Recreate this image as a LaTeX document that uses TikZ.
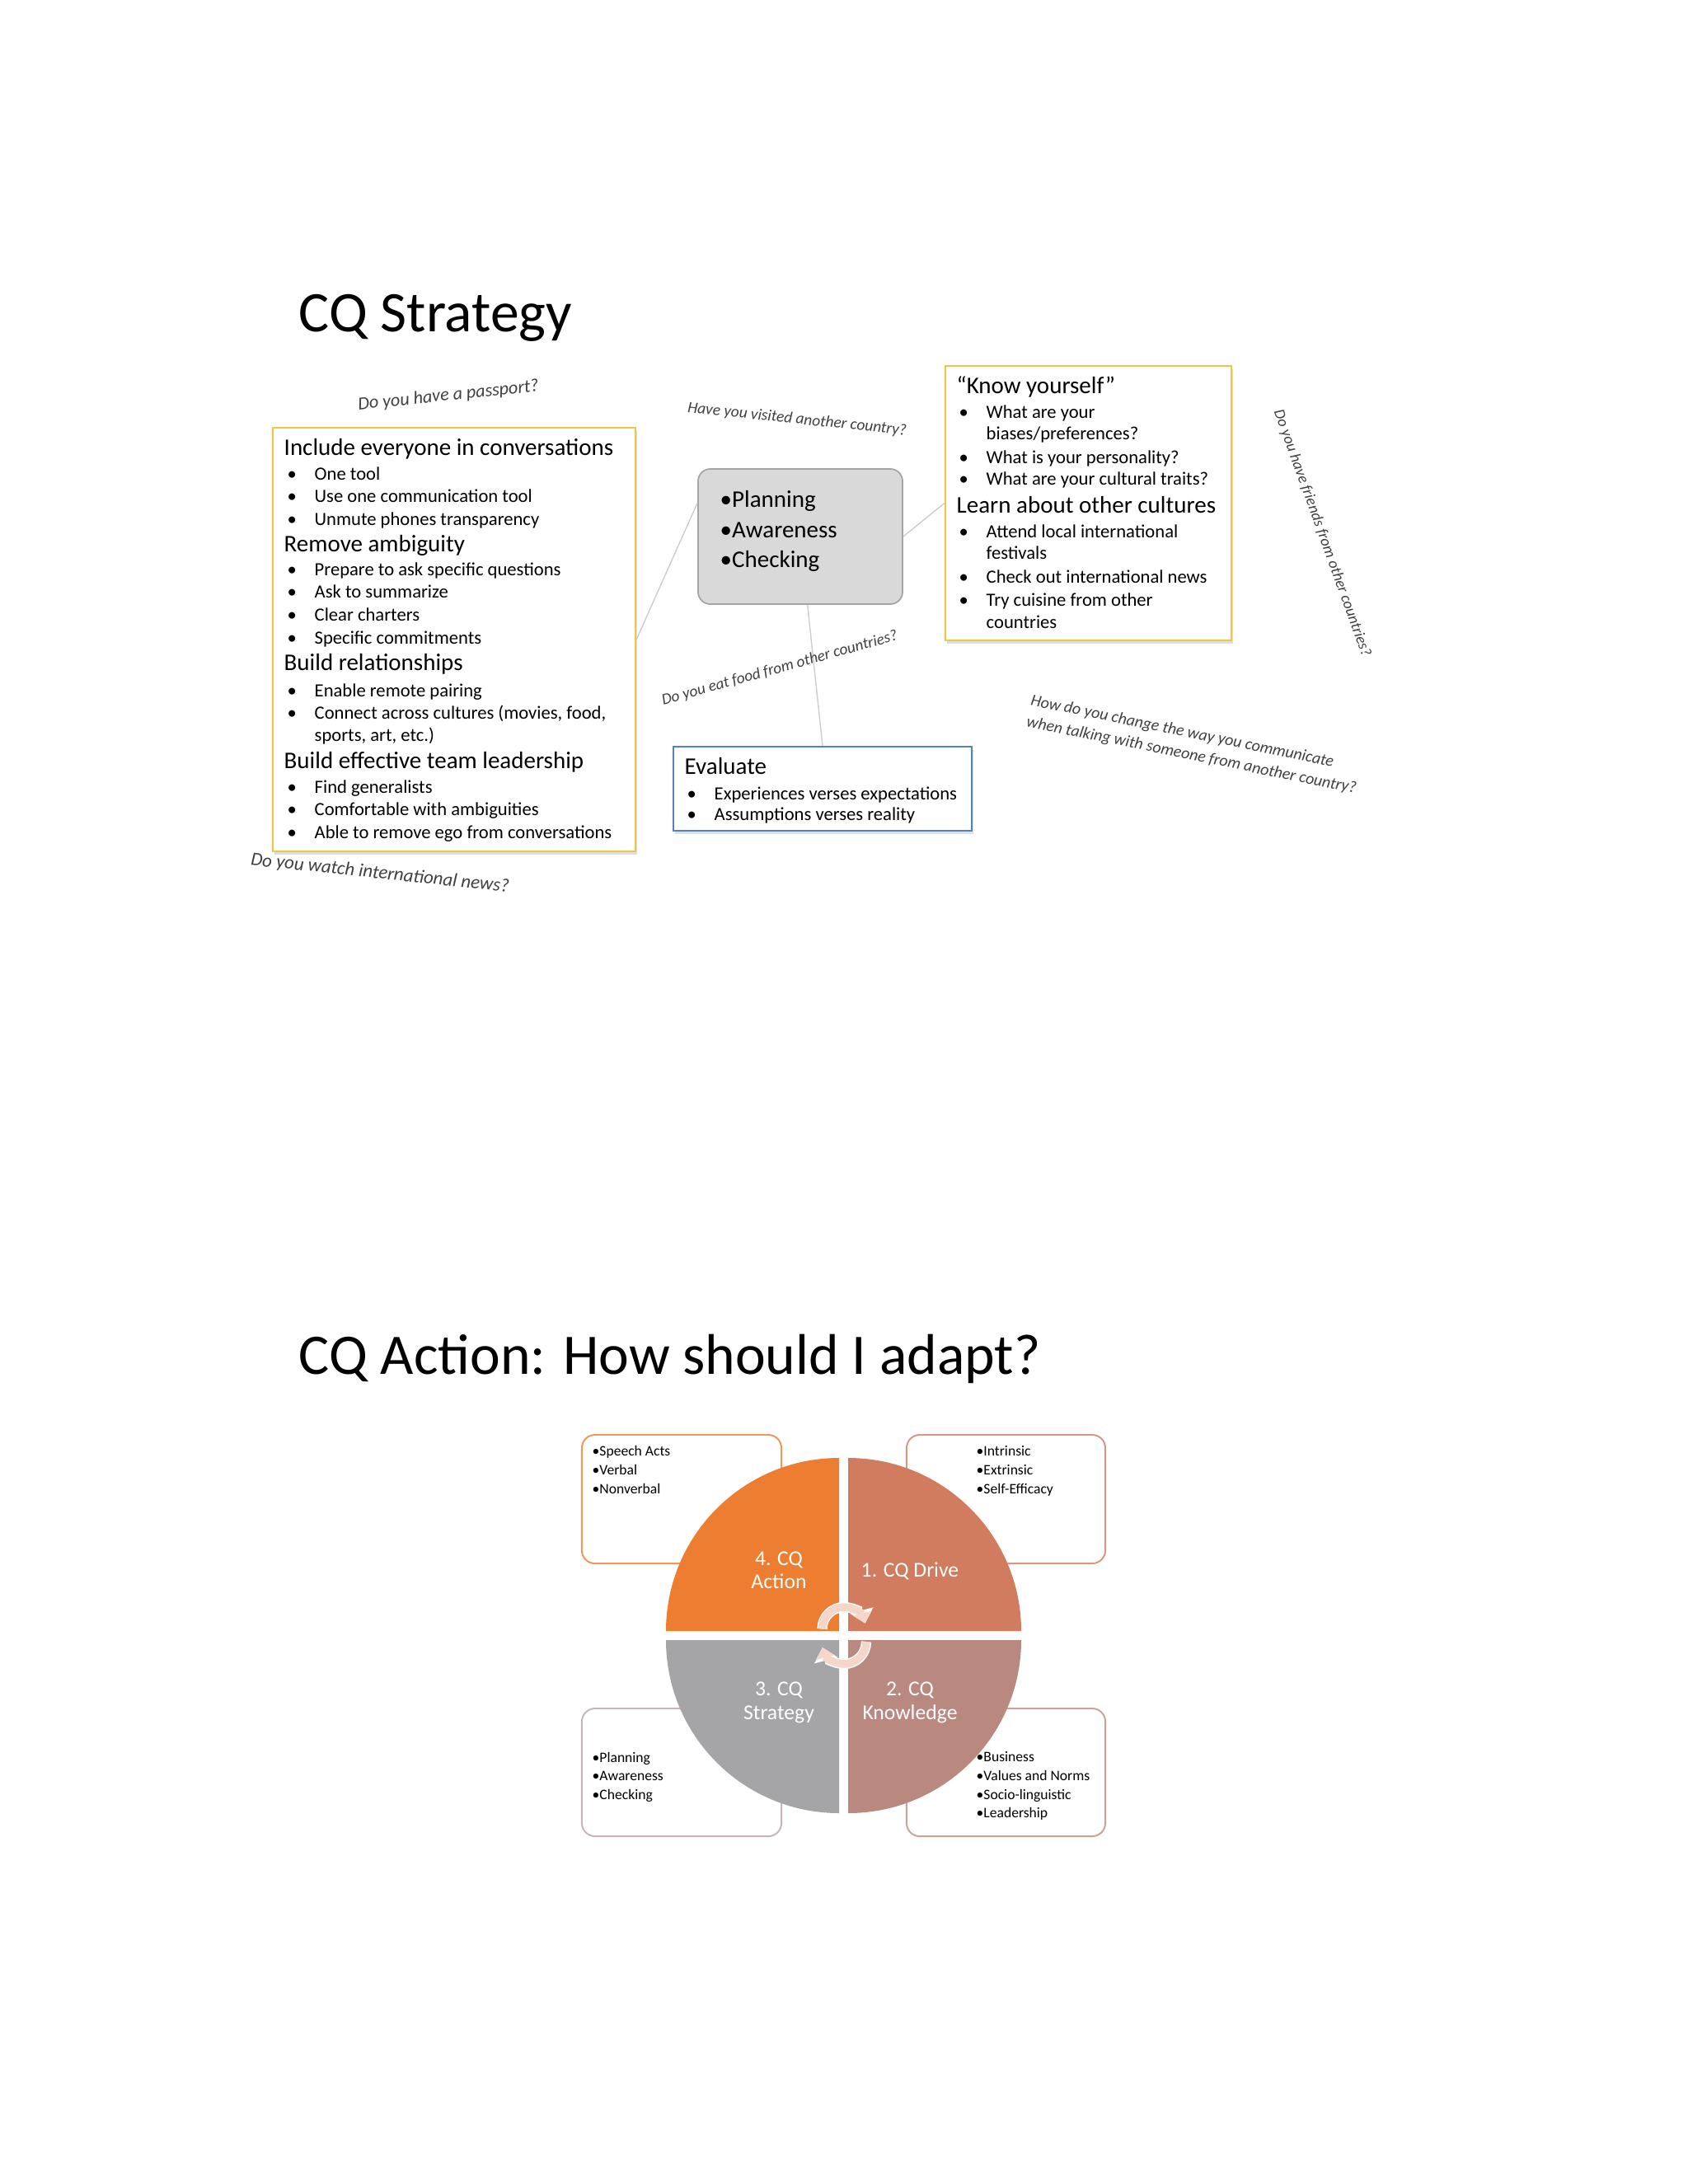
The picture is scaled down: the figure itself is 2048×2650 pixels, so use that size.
\documentclass[tikz,border=0pt]{standalone}
\usepackage{fontspec}
\setmainfont{Carlito}
\usetikzlibrary{shadows,arrows.meta}

\definecolor{boxgold}{RGB}{240,198,72}
\definecolor{boxblue}{RGB}{84,130,190}
\definecolor{linkgray}{RGB}{205,205,205}
\definecolor{askgray}{RGB}{64,64,64}
\definecolor{pacfill}{RGB}{217,217,217}
\definecolor{pacdraw}{RGB}{165,165,165}
\definecolor{actorange}{RGB}{237,125,49}
\definecolor{drvred}{RGB}{209,124,95}
\definecolor{knwrose}{RGB}{185,137,128}
\definecolor{stggray}{RGB}{165,164,166}
\definecolor{cycpink}{RGB}{247,214,202}
\definecolor{actline}{RGB}{242,150,90}
\definecolor{drvline}{RGB}{218,150,128}
\definecolor{knwline}{RGB}{205,160,152}
\definecolor{stgline}{RGB}{200,180,180}

\newcommand{\bul}{\makebox[0.33cm][l]{•}}

\tikzset{
	ttl/.style={anchor=base west, inner sep=0, font=\fontsize{19.8}{24}\selectfont},
	hd/.style={anchor=base west, inner sep=0, font=\fontsize{8.25}{10}\selectfont},
	itm/.style={anchor=base west, inner sep=0, font=\fontsize{6.43}{7.7}\selectfont},
	sitm/.style={anchor=base west, inner sep=0, font=\fontsize{5.0}{6}\selectfont},
	qlab/.style={anchor=base, inner sep=0, text=white, font=\fontsize{7.3}{8.8}\selectfont},
	ask/.style={inner sep=0, text=askgray, font=\fontsize{#1pt}{1.32\dimexpr #1pt\relax}\selectfont\itshape},
	tipbox/.style={draw=boxgold, line width=0.6pt, fill=white, inner sep=0,
		drop shadow={shadow xshift=0.6pt, shadow yshift=-1.2pt, opacity=0.25}},
	evalbox/.style={draw=boxblue, line width=0.6pt, fill=white, inner sep=0,
		drop shadow={shadow xshift=0.6pt, shadow yshift=-1.2pt, opacity=0.25}},
	pacbox/.style={draw=pacdraw, line width=0.5pt, fill=pacfill, rounded corners=0.15cm, inner sep=0},
	roundbox/.style={draw=#1, line width=0.55pt, fill=white, rounded corners=0.16cm, inner sep=0},
	link/.style={draw=linkgray, line width=0.4pt},
	cyc/.style={draw=cycpink, line width=2.7pt, -{Triangle[width=6.5pt,length=3.6pt]},
		preaction={draw=white, line width=3.5pt, -{Triangle[width=8pt,length=4.6pt]}}}
}

\begin{document}
\begin{tikzpicture}[x=0.01cm, y=-0.01cm]
	\useasboundingbox (0,0) rectangle (2048,2650);
	
	% Titles
	\node[ttl] (strat) at (362,402) {CQ Strategy};
	\node[ttl] (adapt) at (362,1667) {CQ Action: How should I adapt?};
	
	% Strategy boxes
	\node[tipbox, minimum width=4.40cm, minimum height=5.14cm] (incl) at (551,776) {};
	\node[tipbox, minimum width=3.47cm, minimum height=3.33cm] (know) at (1320.5,610.5) {};
	\node[pacbox, minimum width=2.48cm, minimum height=1.64cm] (pac) at (971,651) {};
	\node[evalbox, minimum width=3.62cm, minimum height=1.02cm] (eval) at (998,957) {};
	
	% Links to the middle box
	\draw[link] (incl.east) -- (pac.162.5);
	\draw[link] (pac.east) -- (know.west);
	\draw[link] (pac.-84) -- (eval.north);
	
	% Left box contents
	\node[hd] (inc) at (344,552) {Include everyone in conversations};
	\node[itm] (inc1) at (348,582) {\bul One tool};
	\node[itm] (inc2) at (348,609) {\bul Use one communication tool};
	\node[itm] (inc3) at (348,637) {\bul Unmute phones transparency};
	\node[hd] (amb) at (344,669) {Remove ambiguity};
	\node[itm] (amb1) at (348,698) {\bul Prepare to ask specific questions};
	\node[itm] (amb2) at (348,725) {\bul Ask to summarize};
	\node[itm] (amb3) at (348,753) {\bul Clear charters};
	\node[itm] (amb4) at (348,781) {\bul Specific commitments};
	\node[hd] (rel) at (344,813) {Build relationships};
	\node[itm] (rel1) at (348,845) {\bul Enable remote pairing};
	\node[itm] (rel2) at (348,872) {\bul Connect across cultures (movies, food,};
	\node[itm] (rel3) at (381,899) {sports, art, etc.)};
	\node[hd] (lead) at (344,932) {Build effective team leadership};
	\node[itm] (lead1) at (348,962) {\bul Find generalists};
	\node[itm] (lead2) at (348,989) {\bul Comfortable with ambiguities};
	\node[itm] (lead3) at (348,1017) {\bul Able to remove ego from conversations};
	
	% Right box contents
	\node[hd] (ky) at (1160,477) {“Know yourself”};
	\node[itm] (ky1) at (1163,507) {\bul What are your};
	\node[itm] (ky2) at (1196,533) {biases/preferences?};
	\node[itm] (ky3) at (1163,562) {\bul What is your personality?};
	\node[itm] (ky4) at (1163,588) {\bul What are your cultural traits?};
	\node[hd] (lc) at (1160,622) {Learn about other cultures};
	\node[itm] (lc1) at (1163,652) {\bul Attend local international};
	\node[itm] (lc2) at (1196,678) {festivals};
	\node[itm] (lc3) at (1163,707) {\bul Check out international news};
	\node[itm] (lc4) at (1163,735) {\bul Try cuisine from other};
	\node[itm] (lc5) at (1196,762) {countries};
	
	% Middle box contents
	\node[hd] (pac1) at (873,615) {•Planning};
	\node[hd] (pac2) at (873,652) {•Awareness};
	\node[hd] (pac3) at (873,688) {•Checking};
	
	% Evaluate box contents
	\node[hd] (ev) at (830,939) {Evaluate};
	\node[itm] (ev1) at (833,970) {\bul Experiences verses expectations};
	\node[itm] (ev2) at (833,995) {\bul Assumptions verses reality};
	
	% Questions
	\node[ask=6.3, rotate=6] (qpass) at (544,480) {Do you have a passport?};
	\node[ask=5.5, rotate=-6] (qvisit) at (967,509) {Have you visited another country?};
	\node[ask=5.45, rotate=15.5] (qfood) at (946,811) {Do you eat food from other countries?};
	\node[ask=6.5, rotate=-6] (qnews) at (461,1060) {Do you watch international news?};
	\node[ask=5.65, rotate=-11.5, align=left] (qtalk) at (1448,904) {How do you change the way you communicate\\when talking with someone from another country?};
	\node[ask=5.3, rotate=-70.2] (qfriend) at (1604,647) {Do you have friends from other countries?};
	
	% Action cycle boxes
	\node[roundbox=actline, minimum width=2.42cm, minimum height=1.56cm] (actbox) at (827,1819) {};
	\node[roundbox=drvline, minimum width=2.41cm, minimum height=1.56cm] (drvbox) at (1220.5,1819) {};
	\node[roundbox=stgline, minimum width=2.42cm, minimum height=1.55cm] (stgbox) at (827,2150.5) {};
	\node[roundbox=knwline, minimum width=2.41cm, minimum height=1.55cm] (knwbox) at (1220.5,2150.5) {};
	
	\node[sitm] (spa) at (718,1766) {•Speech Acts};
	\node[sitm] (verb) at (718,1789) {•Verbal};
	\node[sitm] (nonv) at (718,1812) {•Nonverbal};
	\node[sitm] (intr) at (1184,1766) {•Intrinsic};
	\node[sitm] (extr) at (1184,1789) {•Extrinsic};
	\node[sitm] (selfe) at (1184,1812) {•Self-Efficacy};
	\node[sitm] (plan) at (718,2138) {•Planning};
	\node[sitm] (awar) at (718,2160) {•Awareness};
	\node[sitm] (chek) at (718,2183) {•Checking};
	\node[sitm] (bus) at (1184,2137) {•Business};
	\node[sitm] (valn) at (1184,2160) {•Values and Norms};
	\node[sitm] (socl) at (1184,2183) {•Socio-linguistic};
	\node[sitm] (ldrs) at (1184,2205) {•Leadership};
	
	% Quarter circles
	\fill[actorange] (1018,1979) -- ++(-210,0) arc[start angle=180, end angle=270, radius=210] -- cycle;
	\fill[drvred] (1029,1979) -- ++(0,-210) arc[start angle=270, end angle=360, radius=210] -- cycle;
	\fill[knwrose] (1029,1990) -- ++(210,0) arc[start angle=0, end angle=90, radius=210] -- cycle;
	\fill[stggray] (1018,1990) -- ++(0,210) arc[start angle=90, end angle=180, radius=210] -- cycle;
	
	% Cycle arrows
	\draw[cyc] (997.5,1976.5) arc[start angle=180, end angle=345, radius=26.5];
	\draw[cyc] (1051,1992) arc[start angle=0, end angle=165, radius=27];
	
	% Quarter labels
	\node[qlab] (act1) at (945,1899) {4. CQ};
	\node[qlab] (act2) at (945,1927) {Action};
	\node[qlab] (drv) at (1104,1913) {1. CQ Drive};
	\node[qlab] (stg1) at (945,2057) {3. CQ};
	\node[qlab] (stg2) at (945,2086) {Strategy};
	\node[qlab] (knw1) at (1104,2057) {2. CQ};
	\node[qlab] (knw2) at (1104,2086) {Knowledge};
	
\end{tikzpicture}
\end{document}
